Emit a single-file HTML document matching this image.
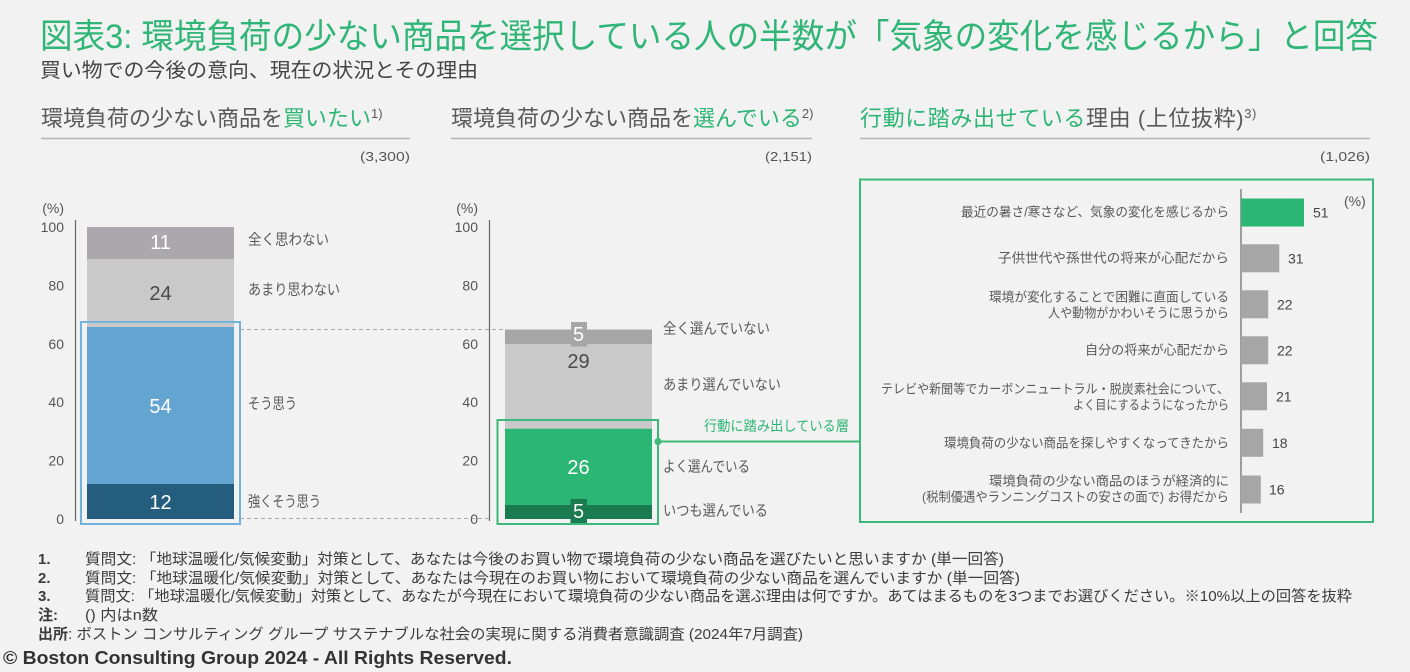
<!DOCTYPE html>
<html><head><meta charset="utf-8">
<style>
html,body{margin:0;padding:0;background:#f2f2f2;}
#w{position:relative;width:1410px;height:672px;overflow:hidden;background:#f2f2f2;font-family:"Liberation Sans","Noto Sans CJK JP",sans-serif;color:#555;}
.t{position:absolute;white-space:nowrap;line-height:1;}
.g{color:#2db574;}
sup{font-size:13px;position:relative;top:-8px;vertical-align:baseline;}
</style></head><body>
<div id="w">
<div class="t" style="left:41px;top:108px;font-size:22px;color:#595959;">環境負荷の少ない商品を<span class="g">買いたい</span><sup>1)</sup></div>
<div class="t" style="left:451px;top:108px;font-size:22px;color:#595959;">環境負荷の少ない商品を<span class="g">選んでいる</span><sup>2)</sup></div>
<div class="t" style="left:860px;top:108px;font-size:22px;color:#595959;letter-spacing:0.6px;"><span class="g">行動に踏み出せている</span>理由 (上位抜粋)<sup>3)</sup></div>

<svg width="1410" height="672" style="position:absolute;left:0;top:0" font-family="Liberation Sans, Noto Sans CJK JP, sans-serif">
<text x="40" y="48" font-size="34" fill="#2fb576" textLength="1338" lengthAdjust="spacingAndGlyphs">図表3: 環境負荷の少ない商品を選択している人の半数が「気象の変化を感じるから」と回答</text>
<text x="40" y="77" font-size="20" fill="#444" textLength="438" lengthAdjust="spacingAndGlyphs">買い物での今後の意向、現在の状況とその理由</text>

<!-- header lines -->
<line x1="41" y1="138.5" x2="410" y2="138.5" stroke="#b4b4b4" stroke-width="1.5"/>
<line x1="451" y1="138.5" x2="812" y2="138.5" stroke="#b4b4b4" stroke-width="1.5"/>
<line x1="860" y1="138.5" x2="1370" y2="138.5" stroke="#b4b4b4" stroke-width="1.5"/>
<g font-size="13" fill="#555">
<text x="360" y="161" textLength="50" lengthAdjust="spacingAndGlyphs">(3,300)</text>
<text x="765" y="161" textLength="47" lengthAdjust="spacingAndGlyphs">(2,151)</text>
<text x="1320" y="161" textLength="50" lengthAdjust="spacingAndGlyphs">(1,026)</text>
</g>

<!-- LEFT CHART -->
<g font-size="14" fill="#555" text-anchor="end" dominant-baseline="central">
<text x="64" y="208">(%)</text>
<text x="64" y="227">100</text>
<text x="64" y="285.4">80</text>
<text x="64" y="343.8">60</text>
<text x="64" y="402.2">40</text>
<text x="64" y="460.6">20</text>
<text x="64" y="519">0</text>
</g>
<line x1="75.5" y1="220" x2="75.5" y2="521" stroke="#666" stroke-width="1.2"/>
<rect x="87" y="227" width="147" height="32" fill="#aaa7ad"/>
<rect x="87" y="259" width="147" height="68" fill="#c9c9c9"/>
<rect x="87" y="327" width="147" height="157" fill="#63a5d0"/>
<rect x="87" y="484" width="147" height="35" fill="#255d7f"/>
<rect x="81" y="322" width="159" height="202" fill="none" stroke="#72b3de" stroke-width="2"/>
<g font-size="20" text-anchor="middle" dominant-baseline="central">
<text x="160.5" y="243" fill="#fff">11</text>
<text x="160.5" y="294" fill="#4a4a4a">24</text>
<text x="160.5" y="407" fill="#fff">54</text>
<text x="160.5" y="503" fill="#fff">12</text>
</g>
<g font-size="15" fill="#595959" dominant-baseline="central">
<text x="248" y="240" textLength="81" lengthAdjust="spacingAndGlyphs">全く思わない</text>
<text x="248" y="290" textLength="92" lengthAdjust="spacingAndGlyphs">あまり思わない</text>
<text x="248" y="404" textLength="49" lengthAdjust="spacingAndGlyphs">そう思う</text>
<text x="248" y="502" textLength="73" lengthAdjust="spacingAndGlyphs">強くそう思う</text>
</g>
<line x1="240" y1="329.5" x2="505" y2="329.5" stroke="#aaa" stroke-width="1" stroke-dasharray="4,3"/>
<line x1="240" y1="518.5" x2="489" y2="518.5" stroke="#aaa" stroke-width="1" stroke-dasharray="4,3"/>

<!-- MIDDLE CHART -->
<g font-size="14" fill="#555" text-anchor="end" dominant-baseline="central">
<text x="478" y="208">(%)</text>
<text x="478" y="227">100</text>
<text x="478" y="285.4">80</text>
<text x="478" y="343.8">60</text>
<text x="478" y="402.2">40</text>
<text x="478" y="460.6">20</text>
<text x="478" y="519">0</text>
</g>
<line x1="489.5" y1="220" x2="489.5" y2="521" stroke="#666" stroke-width="1.2"/>
<rect x="505" y="329.5" width="147" height="14.5" fill="#a6a6a6"/>
<rect x="505" y="344" width="147" height="84.7" fill="#c9c9c9"/>
<rect x="505" y="428.7" width="147" height="76.3" fill="#2bb673"/>
<rect x="505" y="505" width="147" height="14" fill="#1a7a50"/>
<rect x="571" y="322" width="16" height="24.5" fill="#a6a6a6"/>
<rect x="570.5" y="499" width="16.5" height="24" fill="#1a7a50"/>
<rect x="497.5" y="420" width="160.5" height="104" fill="none" stroke="#3cb878" stroke-width="2"/>
<g font-size="20" text-anchor="middle" dominant-baseline="central">
<text x="578.5" y="335" fill="#fff">5</text>
<text x="578.5" y="362" fill="#4a4a4a">29</text>
<text x="578.5" y="468" fill="#fff">26</text>
<text x="578.5" y="512" fill="#fff">5</text>
</g>
<g font-size="15" fill="#595959" dominant-baseline="central">
<text x="663" y="329" textLength="107" lengthAdjust="spacingAndGlyphs">全く選んでいない</text>
<text x="663" y="385" textLength="118" lengthAdjust="spacingAndGlyphs">あまり選んでいない</text>
<text x="663" y="467" textLength="87" lengthAdjust="spacingAndGlyphs">よく選んでいる</text>
<text x="663" y="511" textLength="105" lengthAdjust="spacingAndGlyphs">いつも選んでいる</text>
</g>
<text x="704" y="426" font-size="14" fill="#2db574" dominant-baseline="central" textLength="145" lengthAdjust="spacingAndGlyphs">行動に踏み出している層</text>
<line x1="658" y1="441.5" x2="860" y2="441.5" stroke="#3cb878" stroke-width="2"/>
<circle cx="658" cy="441.5" r="3.5" fill="#3cb878"/>

<!-- RIGHT PANEL -->
<rect x="860" y="179.5" width="513" height="342.5" fill="none" stroke="#3cb878" stroke-width="2"/>
<line x1="1241" y1="189" x2="1241" y2="513" stroke="#666" stroke-width="1.2"/>
<rect x="1241" y="198.5" width="63" height="28" fill="#2bb673"/>
<rect x="1241" y="244.3" width="38.3" height="28" fill="#a6a6a6"/>
<rect x="1241" y="290.3" width="27.2" height="28" fill="#a6a6a6"/>
<rect x="1241" y="336.3" width="27.2" height="28" fill="#a6a6a6"/>
<rect x="1241" y="382.3" width="26" height="28" fill="#a6a6a6"/>
<rect x="1241" y="428.8" width="22.2" height="28" fill="#a6a6a6"/>
<rect x="1241" y="475.5" width="19.8" height="28" fill="#a6a6a6"/>
<g font-size="14" fill="#444" dominant-baseline="central">
<text x="1313" y="212.5">51</text>
<text x="1288" y="258.3">31</text>
<text x="1277" y="304.3">22</text>
<text x="1277" y="350.3">22</text>
<text x="1276" y="396.3">21</text>
<text x="1272" y="442.8">18</text>
<text x="1269" y="489.5">16</text>
<text x="1344" y="201" fill="#555">(%)</text>
</g>
<g font-size="13" fill="#595959" dominant-baseline="central">
<text x="961" y="212" textLength="268" lengthAdjust="spacingAndGlyphs">最近の暑さ/寒さなど、気象の変化を感じるから</text>
<text x="998" y="258" textLength="231" lengthAdjust="spacingAndGlyphs">子供世代や孫世代の将来が心配だから</text>
<text x="989" y="297" textLength="240" lengthAdjust="spacingAndGlyphs">環境が変化することで困難に直面している</text>
<text x="1048" y="313" textLength="181" lengthAdjust="spacingAndGlyphs">人や動物がかわいそうに思うから</text>
<text x="1085" y="350" textLength="144" lengthAdjust="spacingAndGlyphs">自分の将来が心配だから</text>
<text x="881" y="389" textLength="348" lengthAdjust="spacingAndGlyphs">テレビや新聞等でカーボンニュートラル・脱炭素社会について、</text>
<text x="1073" y="405" textLength="156" lengthAdjust="spacingAndGlyphs">よく目にするようになったから</text>
<text x="944" y="443" textLength="285" lengthAdjust="spacingAndGlyphs">環境負荷の少ない商品を探しやすくなってきたから</text>
<text x="989" y="481" textLength="240" lengthAdjust="spacingAndGlyphs">環境負荷の少ない商品のほうが経済的に</text>
<text x="922" y="497" textLength="307" lengthAdjust="spacingAndGlyphs">(税制優遇やランニングコストの安さの面で) お得だから</text>
</g>

<!-- FOOTNOTES -->
<g font-size="15" fill="#3c3c3c">
<text x="38" y="564" font-weight="bold">1.</text>
<text x="85" y="564" textLength="919" lengthAdjust="spacingAndGlyphs">質問文: 「地球温暖化/気候変動」対策として、あなたは今後のお買い物で環境負荷の少ない商品を選びたいと思いますか (単一回答)</text>
<text x="38" y="583" font-weight="bold">2.</text>
<text x="85" y="583" textLength="935" lengthAdjust="spacingAndGlyphs">質問文: 「地球温暖化/気候変動」対策として、あなたは今現在のお買い物において環境負荷の少ない商品を選んでいますか (単一回答)</text>
<text x="38" y="601" font-weight="bold">3.</text>
<text x="85" y="601" textLength="1267" lengthAdjust="spacingAndGlyphs">質問文: 「地球温暖化/気候変動」対策として、あなたが今現在において環境負荷の少ない商品を選ぶ理由は何ですか。あてはまるものを3つまでお選びください。※10%以上の回答を抜粋</text>
<text x="38" y="620" font-weight="bold">注:</text>
<text x="85" y="620" textLength="73" lengthAdjust="spacingAndGlyphs">() 内はn数</text>
<text x="38" y="639" font-weight="bold">出所</text>
<text x="68" y="639" textLength="735" lengthAdjust="spacingAndGlyphs">: ボストン コンサルティング グループ サステナブルな社会の実現に関する消費者意識調査 (2024年7月調査)</text>
</g>
<text x="3" y="664" font-size="18" font-weight="bold" fill="#333" textLength="509" lengthAdjust="spacingAndGlyphs">© Boston Consulting Group 2024 - All Rights Reserved.</text>
</svg>
</div>
</body></html>
